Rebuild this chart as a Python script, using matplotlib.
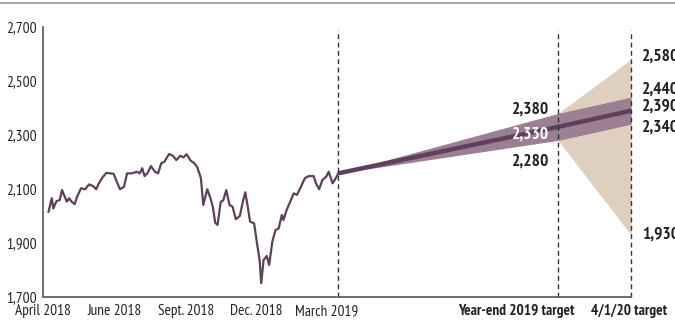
import datetime as dt
import matplotlib
matplotlib.use("Agg")
import matplotlib.pyplot as plt
from matplotlib.lines import Line2D

plt.rcParams["font.family"] = ["PT Sans Narrow", "Fira Sans Condensed", "Roboto Condensed",
                               "Asap Condensed", "DejaVu Sans"]

# ─── Colours ─────────────────────────────────────────────────────────────────
LINE_COLOR = "#5e4159"
FCST_COLOR = "#603f5d"
BAND_COLOR = "#9b7f93"
WIDE_COLOR = "#dfcfbf"
RULE_COLOR = "#a594a1"

# ─── Index history (Apr 2018 – Mar 2019) ─────────────────────────────────────
hist_dates = [
    "2018-03-29", "2018-04-02", "2018-04-04", "2018-04-08", "2018-04-12", "2018-04-15",
    "2018-04-21", "2018-04-24", "2018-04-27", "2018-05-01", "2018-05-04", "2018-05-09",
    "2018-05-14", "2018-05-19", "2018-05-24", "2018-05-28", "2018-05-31", "2018-06-05",
    "2018-06-10", "2018-06-19", "2018-06-23", "2018-06-27", "2018-07-02", "2018-07-06",
    "2018-07-12", "2018-07-18", "2018-07-22", "2018-07-25", "2018-07-28", "2018-08-01",
    "2018-08-05", "2018-08-10", "2018-08-14", "2018-08-18", "2018-08-22", "2018-08-28",
    "2018-09-02", "2018-09-06", "2018-09-11", "2018-09-15", "2018-09-19", "2018-09-24",
    "2018-09-28", "2018-10-02", "2018-10-05", "2018-10-07", "2018-10-10", "2018-10-15",
    "2018-10-19", "2018-10-22", "2018-10-25", "2018-10-28", "2018-11-01", "2018-11-04",
    "2018-11-08", "2018-11-12", "2018-11-16", "2018-11-20", "2018-11-25", "2018-11-29",
    "2018-12-02", "2018-12-05", "2018-12-08", "2018-12-13", "2018-12-17", "2018-12-20",
    "2018-12-22", "2018-12-25", "2018-12-29", "2019-01-01", "2019-01-05", "2019-01-09",
    "2019-01-13", "2019-01-17", "2019-01-19", "2019-01-23", "2019-01-27", "2019-02-01",
    "2019-02-05", "2019-02-10", "2019-02-15", "2019-02-20", "2019-02-26", "2019-03-01",
    "2019-03-05", "2019-03-09", "2019-03-14", "2019-03-17", "2019-03-22", "2019-03-26",
    "2019-03-29",
]
hist_vals = [
    2016, 2066, 2028, 2055, 2059, 2096,
    2053, 2066, 2053, 2044, 2072, 2103,
    2099, 2117, 2111, 2099, 2119, 2143,
    2160, 2156, 2127, 2099, 2108, 2158,
    2158, 2164, 2158, 2177, 2148, 2160,
    2185, 2164, 2158, 2195, 2201, 2230,
    2222, 2207, 2223, 2217, 2229, 2205,
    2197, 2183, 2158, 2140, 2041, 2099,
    2066, 2034, 1975, 1967, 2053, 2057,
    2096, 2041, 2034, 1988, 2000, 2055,
    2088, 2034, 1979, 1973, 1893, 1837,
    1751, 1837, 1852, 1819, 1905, 1948,
    1954, 2004, 1985, 2022, 2049, 2084,
    2078, 2108, 2140, 2148, 2148, 2121,
    2099, 2133, 2146, 2164, 2121, 2140,
    2158,
]

# ─── Targets ─────────────────────────────────────────────────────────────────
fcst_dates = ["2019-03-29", "2019-12-31", "2020-04-01"]
mid_target = [2330, 2390]           # year-end, 4/1/20
band_hi    = [2380, 2440]
band_lo    = [2280, 2340]
wide_hi    = [2380, 2580]
wide_lo    = [2280, 1930]

y_ticks  = [1700, 1900, 2100, 2300, 2500, 2700]
x_ticks  = ["2018-03-22", "2018-06-20", "2018-09-18", "2018-12-16", "2019-03-14",
            "2019-11-08", "2020-03-30"]
x_labels = ["April 2018", "June 2018", "Sept. 2018", "Dec. 2018", "March 2019",
            "Year-end 2019 target", "4/1/20 target"]


def d(s):
    return dt.datetime.strptime(s, "%Y-%m-%d")


hx = [d(s) for s in hist_dates]
fx = [d(s) for s in fcst_dates]
start = hist_vals[-1]

fig = plt.figure(figsize=(6.75, 3.22), dpi=100)
ax = fig.add_axes([43 / 675, 1 - 297 / 322, 588 / 675, 270 / 322])

# wide range for the 4/1/20 target, behind the narrow band
ax.fill_between(fx[1:], wide_lo, wide_hi, color=WIDE_COLOR, lw=0, zorder=1)
ax.fill_between(fx, [start] + band_lo, [start] + band_hi, color=BAND_COLOR, lw=0, zorder=2)
ax.plot(fx, [start] + mid_target, color=FCST_COLOR, lw=3.2, solid_capstyle="butt", zorder=3)
ax.plot(hx, hist_vals, color=LINE_COLOR, lw=1.6, zorder=3)

# dashed markers for today and the two targets
for x in fx:
    ax.plot([x, x], [1700, 2690], color="#333333", lw=1.0, ls=(0, (3.5, 2.5)),
            zorder=4, clip_on=False)

# bottom rule, broken at the March 2019 marker
ax.plot([d("2018-03-23"), d("2019-03-26")], [1700, 1700],
        color="#555555", lw=1.2, zorder=4, clip_on=False)
ax.plot([fx[0], fx[2]], [1700, 1700], color="#555555", lw=1.2, zorder=4, clip_on=False)

ax.set_xlim(d("2018-03-23"), d("2020-04-01"))
ax.set_ylim(1700, 2700)
for s in ("top", "right", "bottom"):
    ax.spines[s].set_visible(False)
ax.spines["left"].set_color("#555555")
ax.spines["left"].set_linewidth(1.2)

ax.set_yticks(y_ticks)
ax.set_yticklabels([f"{v:,}" for v in y_ticks], fontsize=11)
ax.set_xticks([d(s) for s in x_ticks])
ax.set_xticklabels(x_labels, fontsize=11)
for lbl in ax.get_xticklabels()[-2:]:
    lbl.set_fontweight("bold")
ax.tick_params(axis="both", length=0, colors="#222222")
ax.tick_params(axis="y", pad=4.5)
ax.tick_params(axis="x", pad=5)

# value labels at the year-end target
ye = fx[1]
lbl_kw = dict(textcoords="offset points", ha="right", va="center",
              fontsize=12.5, fontweight="bold", zorder=5)
ax.annotate(f"{band_hi[0]:,}", (ye, band_hi[0]), xytext=(-6.5, 3), color="#222222", **lbl_kw)
ax.annotate(f"{mid_target[0]:,}", (ye, mid_target[0]), xytext=(-6.5, -5.8), color="white", **lbl_kw)
ax.annotate(f"{band_lo[0]:,}", (ye, band_lo[0]), xytext=(-6.5, -15.5), color="#222222", **lbl_kw)

# value labels at the 4/1/20 target
end = fx[2]
right_vals = [wide_hi[1], band_hi[1], mid_target[1], band_lo[1], wide_lo[1]]
right_dy   = [1.7, 5.2, 2.7, -2.7, 0]
for v, dy in zip(right_vals, right_dy):
    ax.annotate(f"{v:,}", (end, v), xytext=(8, dy), textcoords="offset points",
                ha="left", va="center", fontsize=12.5, fontweight="bold", color="#222222",
                annotation_clip=False, zorder=5)

# thin rule across the top of the figure
fig.add_artist(Line2D([0, 1], [1 - 3 / 322, 1 - 3 / 322], color=RULE_COLOR, lw=1.3))

fig.savefig("out.png", dpi=100)
